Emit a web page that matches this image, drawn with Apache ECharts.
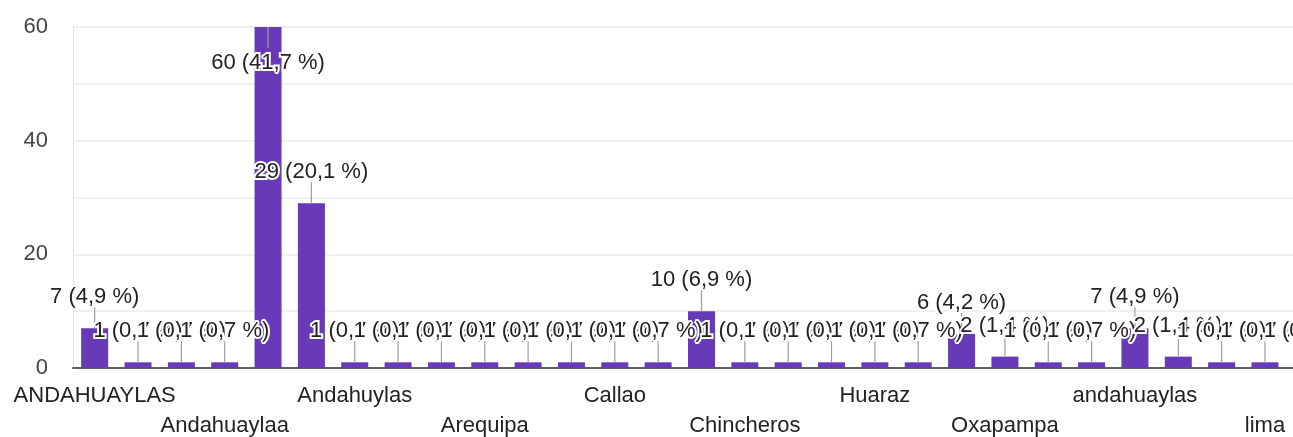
<!DOCTYPE html>
<html>
<head>
<meta charset="utf-8">
<script src="https://cdn.jsdelivr.net/npm/echarts@6/dist/echarts.min.js"></script>
<style>
html,body{margin:0;padding:0;overflow:hidden;background:#fff;}
#chart{width:1330px;height:437px;}
</style>
</head>
<body>
<div id="chart"></div>
<script>
const categories = ["ANDAHUAYLAS","Abancay","Andahuayla","Andahuaylaa","Andahuaylas","Andahuaylas Apurímac","Andahuylas","Apurimac","Apurímac","Arequipa","Ayacucho","Cajamarca","Callao","Chalhuanca","Chicmo","Chincheros","Cusco","Huancayo","Huaraz","Kishuara","Lima","Oxapampa","Pacucha","Talavera","andahuaylas","andahuaylas apurimac","chincheros","lima","talavera"];
const counts = [7,1,1,1,60,29,1,1,1,1,1,1,1,1,10,1,1,1,1,1,6,2,1,1,7,2,1,1,1];
const yTicks = [0,20,40,60];

const FONT = '"Liberation Sans", Arial, sans-serif';
const FS = 22;
const total = counts.reduce((a,b)=>a+b,0);
const fmt = v => v + ' (' + (v/total*100).toFixed(1).replace('.', ',') + ' %)';

const labelBase = {color:'#222',fontFamily:FONT,fontSize:FS,hideOverlap:false,showMinLabel:true,showMaxLabel:true};

const chart = echarts.init(document.getElementById('chart'));
chart.setOption({
  animation:false,
  grid:{left:73,right:0,top:27,bottom:69},
  xAxis:[
    {
      type:'category',
      data:categories,
      axisLine:{show:true,lineStyle:{color:'#5f5f5f',width:2}},
      axisTick:{show:false},
      axisLabel:Object.assign({}, labelBase, {
        interval:(idx)=> idx % 6 === 0,
        margin:17
      })
    },
    {
      type:'category',
      data:categories,
      position:'bottom',
      axisLine:{show:false},
      axisTick:{show:false},
      splitLine:{show:false},
      axisLabel:Object.assign({}, labelBase, {
        interval:(idx)=> idx % 6 === 3,
        margin:47
      })
    }
  ],
  yAxis:{
    type:'value',
    min:yTicks[0],max:yTicks[yTicks.length-1],interval:20,
    axisLine:{show:true,lineStyle:{color:'#e6e6e6',width:1}},
    axisTick:{show:false},
    axisLabel:{margin:25,color:'#444',fontFamily:FONT,fontSize:FS},
    splitLine:{show:true,lineStyle:{color:'#ebebeb',width:1.5}},
    minorTick:{show:false,splitNumber:2},
    minorSplitLine:{show:true,lineStyle:{color:'#ebebeb',width:1.5}}
  },
  series:[
    {
      type:'bar',
      data:counts,
      barWidth:27,
      itemStyle:{color:'#673ab7'},
      z:2
    },
    {
      type:'custom',
      z:5,
      clip:false,
      data:counts.map((v,i)=>[i,v]),
      renderItem:function(params,api){
        const i = api.value(0), v = api.value(1);
        const p = api.coord([i, v]);
        const top = params.coordSys.y;
        const inside = (p[1] - 45) < top;
        const dir = inside ? 1 : -1;
        const textOff = inside ? 36 : 31;
        return {
          type:'group',
          children:[
            {type:'line',shape:{x1:p[0],y1:p[1],x2:p[0],y2:p[1]+dir*21},style:{stroke:'#9e9e9e',lineWidth:1.2}},
            {type:'text',x:p[0],y:p[1]+dir*textOff,style:{
              text:fmt(v),fill:'#222',font:FS + 'px ' + FONT,
              align:'center',verticalAlign:'middle',
              stroke:'#fff',lineWidth:4
            }}
          ]
        };
      }
    }
  ]
});
</script>
</body>
</html>
